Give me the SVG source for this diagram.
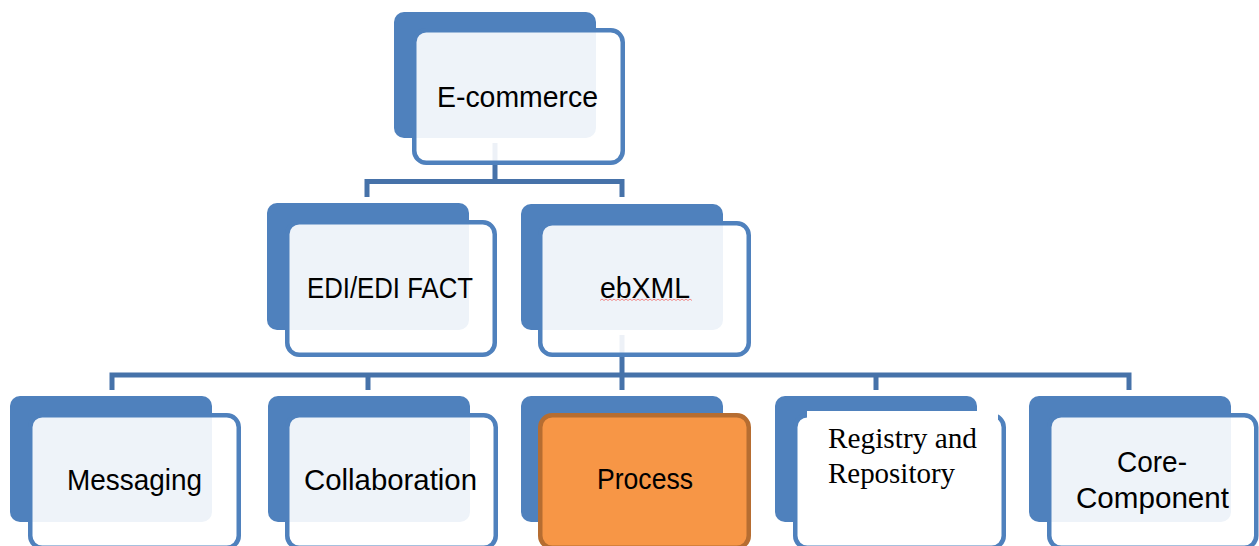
<svg xmlns="http://www.w3.org/2000/svg" width="1259" height="546" viewBox="0 0 1259 546">
<style>
.back{fill:#4F81BD;}
.front{fill:#ffffff;fill-opacity:0.9;stroke:#4F81BD;stroke-width:4.5;}
.front-solid{fill:#ffffff;stroke:#4F81BD;stroke-width:4.5;}
.front-hl{fill:#F79646;stroke:#B66D31;stroke-width:4.5;}
.conn{fill:none;stroke:#4672A9;stroke-width:5;stroke-linejoin:miter;stroke-linecap:butt;}
.lbl{font-family:"Liberation Sans",Arial,sans-serif;font-size:29px;fill:#000000;}
.lbl-serif{font-family:"Liberation Serif","Times New Roman",serif;font-size:28.5px;fill:#000000;}
</style>
<rect width="1259" height="546" fill="#ffffff"/>
<g id="connectors">
  <path class="conn" d="M495 143 V181.5 M367 197 V181.5 H622 V197"/>
  <path class="conn" d="M622 335 V375 M112 390 V375 H1129 V390 M368 375 V390 M622 375 V390 M876 375 V390"/>
</g>
<g id="node-ecommerce">
  <rect class="back" x="394" y="12" width="202" height="126" rx="10"/>
  <rect class="front" x="414.25" y="30.25" width="208.5" height="132.5" rx="12"/>
  <text class="lbl" x="437" y="107" textLength="161" lengthAdjust="spacingAndGlyphs">E-commerce</text>
</g>
<g id="node-edi">
  <rect class="back" x="267" y="203" width="202" height="127" rx="10"/>
  <rect class="front" x="287.25" y="222.25" width="207.5" height="132.5" rx="12"/>
  <text class="lbl" x="307" y="298" textLength="166" lengthAdjust="spacingAndGlyphs">EDI/EDI FACT</text>
</g>
<g id="node-ebxml">
  <rect class="back" x="521" y="204" width="202" height="126" rx="10"/>
  <rect class="front" x="540.25" y="223.25" width="208.5" height="131.5" rx="12"/>
  <text class="lbl" x="600" y="298" textLength="90" lengthAdjust="spacingAndGlyphs">ebXML</text>
  <path d="M600 300.5 l2 -1.4 l2 1.4 l2 -1.4 l2 1.4 l2 -1.4 l2 1.4 l2 -1.4 l2 1.4 l2 -1.4 l2 1.4 l2 -1.4 l2 1.4 l2 -1.4 l2 1.4 l2 -1.4 l2 1.4 l2 -1.4 l2 1.4 l2 -1.4 l2 1.4 l2 -1.4 l2 1.4 l2 -1.4 l2 1.4 l2 -1.4 l2 1.4 l2 -1.4 l2 1.4 l2 -1.4 l2 1.4 l2 -1.4 l2 1.4 l2 -1.4 l2 1.4 l2 -1.4 l2 1.4 l2 -1.4 l2 1.4 l2 -1.4 l2 1.4 l2 -1.4 l2 1.4 l2 -1.4 l2 1.4 l2 -1.4 l2 1.4" fill="none" stroke="#F28B8B" stroke-width="1"/>
</g>
<g id="node-messaging">
  <rect class="back" x="10" y="396" width="202" height="126" rx="10"/>
  <rect class="front" x="30.25" y="415.25" width="208.5" height="132.5" rx="12"/>
  <text class="lbl" x="67" y="490" textLength="135" lengthAdjust="spacingAndGlyphs">Messaging</text>
</g>
<g id="node-collaboration">
  <rect class="back" x="268" y="396" width="202" height="126" rx="10"/>
  <rect class="front" x="287.25" y="415.25" width="208.5" height="132.5" rx="12"/>
  <text class="lbl" x="304" y="490" textLength="173" lengthAdjust="spacingAndGlyphs">Collaboration</text>
</g>
<g id="node-process">
  <rect class="back" x="521" y="396" width="202" height="126" rx="10"/>
  <rect class="front-hl" x="540.25" y="415.25" width="208.5" height="132.5" rx="12"/>
  <text class="lbl" x="597" y="489" textLength="96" lengthAdjust="spacingAndGlyphs">Process</text>
</g>
<g id="node-registry">
  <rect class="back" x="775" y="396" width="202" height="126" rx="10"/>
  <rect class="front-solid" x="795.25" y="415.25" width="208.5" height="132.5" rx="12"/>
  <rect x="807" y="411" width="191" height="60" fill="#ffffff"/>
  <text class="lbl-serif" x="828" y="448" textLength="149" lengthAdjust="spacingAndGlyphs">Registry and</text>
  <text class="lbl-serif" x="828" y="483" textLength="127" lengthAdjust="spacingAndGlyphs">Repository</text>
</g>
<g id="node-core">
  <rect class="back" x="1029" y="396" width="202" height="126" rx="10"/>
  <rect class="front" x="1049.25" y="415.25" width="207" height="132.5" rx="12"/>
  <text class="lbl" x="1117" y="472" textLength="70" lengthAdjust="spacingAndGlyphs">Core-</text>
  <text class="lbl" x="1076" y="508" textLength="153" lengthAdjust="spacingAndGlyphs">Component</text>
</g>
</svg>
